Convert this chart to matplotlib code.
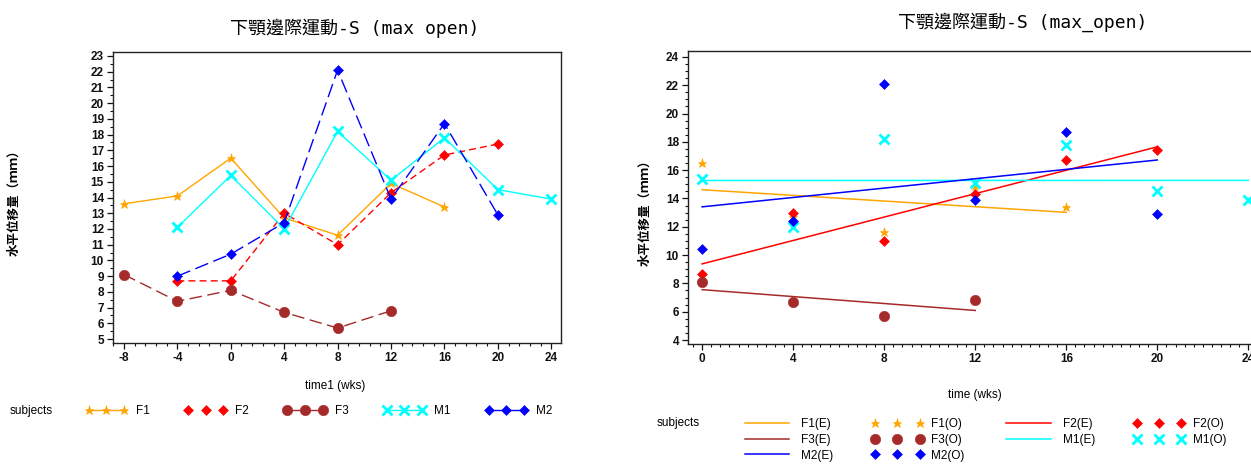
import matplotlib
matplotlib.use("Agg")
import matplotlib.pyplot as plt
from matplotlib.lines import Line2D
from matplotlib.ticker import MultipleLocator

# ---------------- data ----------------
f1_t = [-8, -4, 0, 4, 8, 12, 16]
f1_y = [13.6, 14.1, 16.5, 12.7, 11.6, 14.9, 13.4]
f2_t = [-4, 0, 4, 8, 12, 16, 20]
f2_y = [8.7, 8.7, 13.0, 11.0, 14.3, 16.7, 17.4]
f3_t = [-8, -4, 0, 4, 8, 12]
f3_y = [9.1, 7.4, 8.1, 6.7, 5.7, 6.8]
m1_t = [-4, 0, 4, 8, 12, 16, 20, 24]
m1_y = [12.1, 15.4, 12.0, 18.2, 15.1, 17.8, 14.5, 13.9]
m2_t = [-4, 0, 4, 8, 12, 16, 20]
m2_y = [9.0, 10.4, 12.4, 22.1, 13.9, 18.7, 12.9]

# estimated (fitted) lines, endpoints
f1_fit_t = [0, 16];  f1_fit_y = [14.62, 13.02]
f2_fit_t = [0, 20];  f2_fit_y = [9.38, 17.65]
f3_fit_t = [0, 12];  f3_fit_y = [7.56, 6.09]
m1_fit_t = [0, 24];  m1_fit_y = [15.27, 15.28]
m2_fit_t = [0, 20];  m2_fit_y = [13.41, 16.72]

subjects = ["F1", "F2", "F3", "M1", "M2"]
left_xticks = [-8, -4, 0, 4, 8, 12, 16, 20, 24]
left_yticks = list(range(5, 24))
right_xticks = [0, 4, 8, 12, 16, 20, 24]
right_yticks = list(range(4, 25, 2))

title_left = "下顎邊際運動-S (max open)"
title_right = "下顎邊際運動-S (max_open)"
ylabel_text = "水平位移量（ｍｍ）"
xlabel_left = "time1 (wks)"
xlabel_right = "time (wks)"

# ---------------- styles ----------------
C = {"F1": "#FFA500", "F2": "#FF0000", "F3": "#A52A2A", "M1": "#00FFFF", "M2": "#0000FF"}
MK = {"F1": dict(marker="*", ms=6.5, mew=0.4),
      "F2": dict(marker="D", ms=4.8, mew=0.4),
      "F3": dict(marker="o", ms=7.5, mew=0.4),
      "M1": dict(marker="x", ms=6.5, mew=2),
      "M2": dict(marker="D", ms=4.8, mew=0.4)}
LS = {"F1": "-", "F2": (0, (5, 3)), "F3": (0, (9, 4)), "M1": "-", "M2": (0, (10, 4))}
LEG_LS = {"F1": "-", "F2": "none", "F3": "-", "M1": "-", "M2": "-"}

series = {"F1": (f1_t, f1_y), "F2": (f2_t, f2_y), "F3": (f3_t, f3_y),
          "M1": (m1_t, m1_y), "M2": (m2_t, m2_y)}
fits = {"F1": (f1_fit_t, f1_fit_y), "F2": (f2_fit_t, f2_fit_y), "F3": (f3_fit_t, f3_fit_y),
        "M1": (m1_fit_t, m1_fit_y), "M2": (m2_fit_t, m2_fit_y)}

TICKFONT = "Liberation Sans"
CJK = ["Noto Sans CJK TC", "DejaVu Sans"]
TITLEFONT = ["DejaVu Sans Mono", "Noto Sans CJK TC"]

W, H = 1251, 466
fig = plt.figure(figsize=(W / 100, H / 100), dpi=100)


def rect(l, t, r, b):
    return [l / W, 1 - b / H, (r - l) / W, (b - t) / H]


def style_axes(ax):
    for s in ax.spines.values():
        s.set_linewidth(1.0)
        s.set_color("#222222")
    ax.tick_params(which="major", direction="out", length=4, width=0.9, pad=2.5,
                   labelsize=8.5, colors="#111111")
    ax.tick_params(which="minor", direction="out", length=2.2, width=0.8, colors="#111111")
    for lab in ax.get_xticklabels() + ax.get_yticklabels():
        lab.set_fontfamily(TICKFONT)
        lab.set_fontweight("bold")


# ---------------- left panel ----------------
ax1 = fig.add_axes(rect(113, 52, 561, 343))
for s in subjects:
    t, y = series[s]
    ax1.plot(t, y, color=C[s], lw=1.0, linestyle=LS[s], mec=C[s], mfc=C[s], **MK[s])
ax1.set_xlim(-8.82, 24.73)
ax1.set_ylim(4.75, 23.25)
ax1.set_xticks(left_xticks)
ax1.set_xticklabels([str(v) for v in left_xticks])
ax1.set_yticks(left_yticks)
ax1.xaxis.set_minor_locator(MultipleLocator(0.8))
ax1.yaxis.set_minor_locator(MultipleLocator(0.5))
style_axes(ax1)

fig.text(355 / W, 1 - 28 / H, title_left, ha="center", va="center", fontsize=13,
         family=TITLEFONT)
fig.text(335 / W, 1 - 386 / H, xlabel_left, ha="center", va="center", fontsize=8.5,
         family=TICKFONT)
fig.text(14 / W, 1 - 200 / H, ylabel_text, ha="center", va="center", rotation=90,
         fontsize=9, family=CJK, fontweight="bold")

fig.text(10 / W, 1 - 411 / H, "subjects", ha="left", va="center", fontsize=8.5,
         family=TICKFONT)
hl = [Line2D([], [], color=C[s], lw=1.0, linestyle=LEG_LS[s], mec=C[s], mfc=C[s], **MK[s])
      for s in subjects]
leg1 = fig.legend(hl, subjects, loc="center left", bbox_to_anchor=(85 / W, 1 - 411 / H),
                  ncol=5, frameon=False, numpoints=3, handlelength=3.6, handletextpad=0.7,
                  columnspacing=2.95, borderpad=0, borderaxespad=0,
                  prop={"family": TICKFONT, "size": 8.5})

# ---------------- right panel ----------------
ax2 = fig.add_axes(rect(688, 51, 1262, 344))
for s in subjects:
    t, y = series[s]
    tt = [a for a in t if a >= 0]
    yy = [b for a, b in zip(t, y) if a >= 0]
    ax2.plot(tt, yy, linestyle="none", mec=C[s], mfc=C[s], **MK[s])
    ft, fy = fits[s]
    ax2.plot(ft, fy, color=C[s], lw=1.1)
ax2.set_xlim(-0.62, 24.6)
ax2.set_ylim(3.72, 24.42)
ax2.set_xticks(right_xticks)
ax2.set_yticks(right_yticks)
ax2.xaxis.set_minor_locator(MultipleLocator(0.4))
ax2.yaxis.set_minor_locator(MultipleLocator(0.5))
style_axes(ax2)

fig.text(1023 / W, 1 - 22 / H, title_right, ha="center", va="center", fontsize=13,
         family=TITLEFONT)
fig.text(975 / W, 1 - 395 / H, xlabel_right, ha="center", va="center", fontsize=8.5,
         family=TICKFONT)
fig.text(645 / W, 1 - 210 / H, ylabel_text, ha="center", va="center", rotation=90,
         fontsize=9, family=CJK, fontweight="bold")
fig.text(657 / W, 1 - 423 / H, "subjects", ha="left", va="center", fontsize=8.5,
         family=TICKFONT)

hE = {s: Line2D([], [], color=C[s], lw=1.1) for s in subjects}
hO = {s: Line2D([], [], linestyle="none", mec=C[s], mfc=C[s], **MK[s]) for s in subjects}
order = [("F1", "E"), ("F3", "E"), ("M2", "E"),
         ("F1", "O"), ("F3", "O"), ("M2", "O"),
         ("F2", "E"), ("M1", "E"),
         ("F2", "O"), ("M1", "O")]
handles2 = [hE[s] if k == "E" else hO[s] for s, k in order]
labels2 = [f"{s}({k})" for s, k in order]
leg2 = fig.legend(handles2, labels2, loc="center left", bbox_to_anchor=(741 / W, 1 - 440 / H),
                  ncol=4, frameon=False, numpoints=3, handlelength=4.4, handletextpad=0.7,
                  columnspacing=3.2, labelspacing=0.3, borderpad=0, borderaxespad=0,
                  prop={"family": TICKFONT, "size": 8.5})

fig.savefig("out.png", dpi=100)
